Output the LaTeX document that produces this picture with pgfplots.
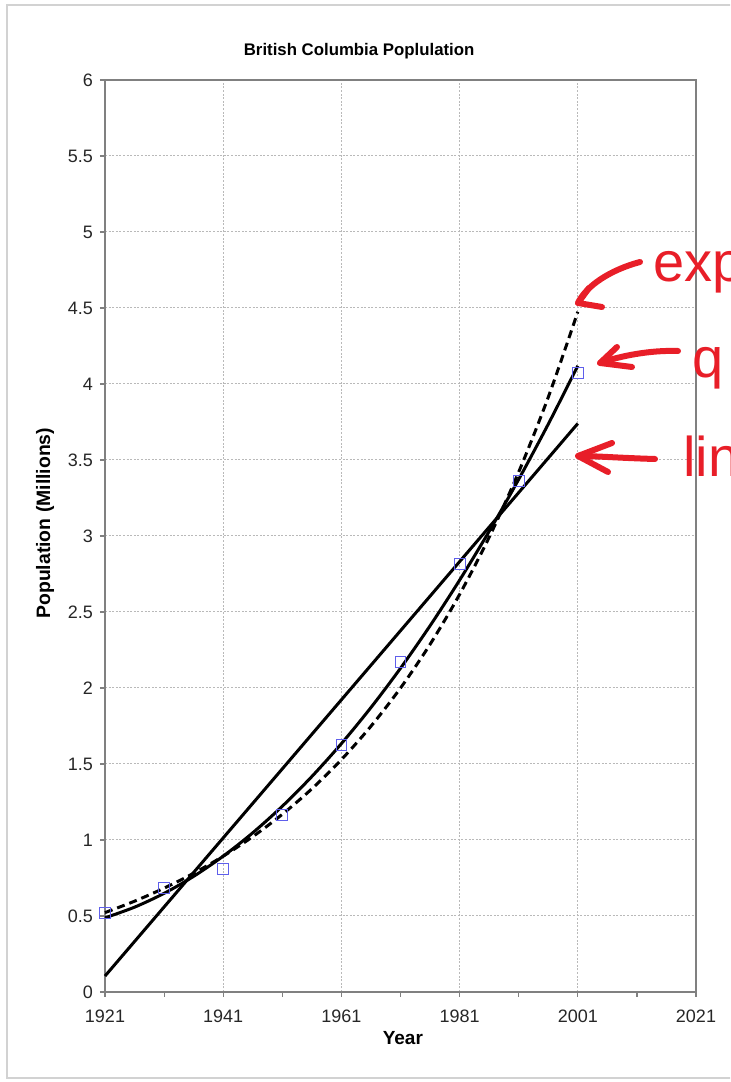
\documentclass[border=0pt]{standalone}
\usepackage{pgfplots}
\pgfplotsset{compat=1.18}
\usepackage{fontspec}
\setmainfont{Liberation Sans}
\definecolor{markblue}{RGB}{95,95,235}
\definecolor{annred}{RGB}{232,30,40}
\definecolor{axgray}{RGB}{128,128,128}
\begin{document}
\begin{tikzpicture}
\useasboundingbox (0,0) rectangle (365pt,541pt);
\clip (0,0) rectangle (365pt,541pt);
\draw[gray!35, line width=0.8pt] (3.5pt,2pt) rectangle (380pt,538.5pt);
\begin{axis}[
  at={(52.5pt,45pt)}, anchor=south west,
  scale only axis, width=295.5pt, height=456pt,
  xmin=1921, xmax=2021, ymin=0, ymax=6,
  xtick={1921,1941,1961,1981,2001,2021},
  minor xtick={1931,1951,1971,1991,2011},
  ytick={0,0.5,1,1.5,2,2.5,3,3.5,4,4.5,5,5.5,6},
  tick pos=left, tick align=outside,
  major tick length=2.5pt, minor tick length=2.5pt,
  every tick/.style={axgray, line width=0.6pt},
  every minor tick/.style={axgray, line width=0.6pt},
  axis line style={axgray, line width=0.8pt},
  xmajorgrids, ymajorgrids,
  major grid style={gray!55, line width=0.5pt, dash pattern=on 1pt off 0.8pt},
  /pgf/number format/assume math mode=true,
  x tick label style={/pgf/number format/1000 sep=, yshift=-3pt},
  tick label style={font=\fontsize{9}{10}\selectfont, text=black!85},
  xlabel={Year}, ylabel={Population (Millions)},
  xlabel style={font=\bfseries\fontsize{9.5}{11}\selectfont, at={(axis description cs:0.504,-0.0504)}, anchor=center},
  ylabel style={font=\bfseries\fontsize{9.7}{11}\selectfont, at={(axis description cs:-0.1015,0.514)}, anchor=center},
  title={British Columbia Poplulation},
  title style={font=\bfseries\fontsize{8.4}{10}\selectfont, at={(axis description cs:0.43,1.0186)}, anchor=center},
  clip=false,
]
% linear trend
\addplot[black, line width=1.5pt] coordinates {(1921,0.105) (2001,3.74)};
% quadratic trend
\addplot[black, line width=1.5pt, smooth] coordinates {
(1921,0.4881) (1926,0.5581) (1931,0.6490) (1936,0.7609) (1941,0.8937)
(1946,1.0474) (1951,1.2221) (1956,1.4177) (1961,1.6342) (1966,1.8716)
(1971,2.1300) (1976,2.4093) (1981,2.7095) (1986,3.0307) (1991,3.3728)
(1996,3.7357) (2001,4.1197)};
% exponential trend
\addplot[black, line width=1.5pt, smooth, dash pattern=on 4pt off 2.5pt] coordinates {
(1921,0.5223) (1926,0.5974) (1931,0.6832) (1936,0.7813) (1941,0.8936)
(1946,1.0220) (1951,1.1689) (1956,1.3368) (1961,1.5289) (1966,1.7485)
(1971,1.9998) (1976,2.2870) (1981,2.6157) (1986,2.9916) (1991,3.4212)
(1996,3.9128) (2001,4.4748)};
% data
\addplot[only marks, mark=square, mark size=2.7pt, mark options={markblue, line width=0.5pt}] coordinates {
(1921,0.52) (1931,0.686) (1941,0.81) (1951,1.164) (1961,1.625)
(1971,2.17) (1981,2.814) (1991,3.36) (2001,4.07)};
\end{axis}
% handwritten annotations
\begin{scope}[annred, line width=3pt, line cap=round, line join=round]
\draw (320pt,410pt) .. controls (305pt,406pt) and (293pt,398pt) .. (289pt,389.5pt);
\draw (294.5pt,397pt) -- (289pt,389.5pt) -- (301pt,387.5pt);
\draw (339pt,365.5pt) .. controls (325pt,366pt) and (310pt,363pt) .. (300pt,359.5pt);
\draw (308.5pt,367.5pt) -- (300pt,359.5pt) -- (316pt,357.5pt);
\draw (327.5pt,311.5pt) .. controls (310pt,312pt) and (298pt,313pt) .. (289pt,313pt);
\draw (306pt,319.5pt) -- (289pt,313pt) -- (304pt,305pt);
\end{scope}
\node[annred, anchor=base west, inner sep=0pt, font=\fontsize{28}{28}\selectfont] at (326.5pt,400pt) {exp};
\node[annred, anchor=base west, inner sep=0pt, font=\fontsize{28}{28}\selectfont] at (346pt,352pt) {q};
\node[annred, anchor=base west, inner sep=0pt, font=\fontsize{28}{28}\selectfont] at (341.5pt,302.5pt) {lin};
\end{tikzpicture}
\end{document}
